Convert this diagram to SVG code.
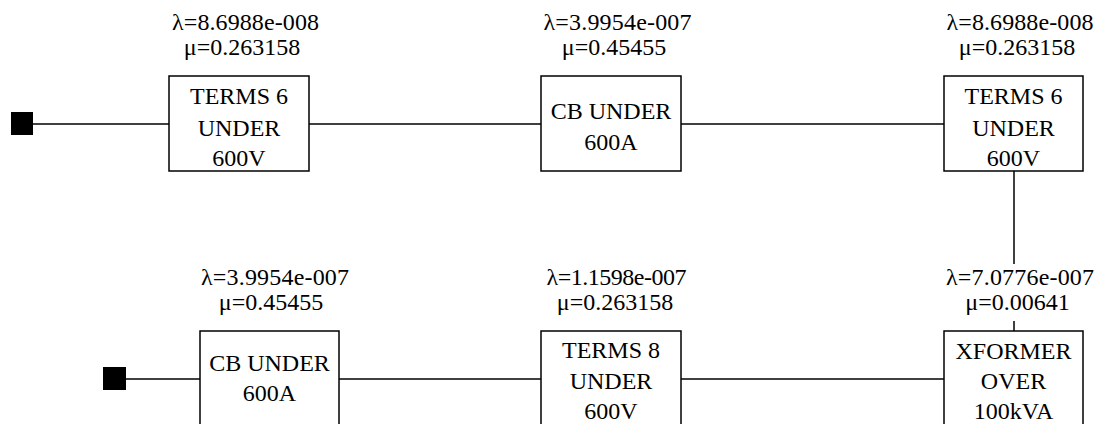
<svg xmlns="http://www.w3.org/2000/svg" width="1099" height="424" viewBox="0 0 1099 424">
<style>
text{font-family:'Liberation Serif','Times New Roman',Times,serif;font-size:24px;fill:#000;text-anchor:middle}
.box{fill:#fff;stroke:#000;stroke-width:1.5}
.wire{stroke:#000;stroke-width:1.5;fill:none}
.term{fill:#000}
</style>
<rect width="1099" height="424" fill="#fff"/>
<g id="connectors">
<line class="wire" x1="33" y1="124" x2="169" y2="124"/>
<line class="wire" x1="309" y1="124" x2="541" y2="124"/>
<line class="wire" x1="681" y1="124" x2="944" y2="124"/>
<line class="wire" x1="1014" y1="171" x2="1014" y2="264"/>
<line class="wire" x1="1014" y1="321" x2="1014" y2="331"/>
<line class="wire" x1="126" y1="379" x2="200" y2="379"/>
<line class="wire" x1="339" y1="379" x2="541" y2="379"/>
<line class="wire" x1="681" y1="379" x2="944" y2="379"/>
</g>
<g id="source1"><rect class="term" x="11" y="112" width="22" height="23"/></g>
<g id="source2"><rect class="term" x="103" y="367" width="23" height="23"/></g>
<g id="n1">
<text x="245.5" y="30" textLength="147" lengthAdjust="spacing">λ=8.6988e-008</text>
<text x="242" y="55">μ=0.263158</text>
<rect class="box" x="169" y="76" width="140" height="95"/>
<text x="239" y="104">TERMS 6</text>
<text x="239" y="136">UNDER</text>
<text x="239" y="166">600V</text>
</g>
<g id="n2">
<text x="617.5" y="30" textLength="148" lengthAdjust="spacing">λ=3.9954e-007</text>
<text x="614" y="55">μ=0.45455</text>
<rect class="box" x="541" y="76" width="140" height="95"/>
<text x="611" y="119">CB UNDER</text>
<text x="611" y="150">600A</text>
</g>
<g id="n3">
<text x="1020" y="30" textLength="147" lengthAdjust="spacing">λ=8.6988e-008</text>
<text x="1017" y="55">μ=0.263158</text>
<rect class="box" x="944" y="76" width="139" height="95"/>
<text x="1013.5" y="104">TERMS 6</text>
<text x="1013.5" y="136">UNDER</text>
<text x="1013.5" y="166">600V</text>
</g>
<g id="n4">
<text x="275" y="285" textLength="148" lengthAdjust="spacing">λ=3.9954e-007</text>
<text x="271" y="310">μ=0.45455</text>
<rect class="box" x="200" y="331" width="139" height="100"/>
<text x="269.5" y="371">CB UNDER</text>
<text x="269.5" y="401">600A</text>
</g>
<g id="n5">
<text x="616.5" y="285" textLength="140" lengthAdjust="spacing">λ=1.1598e-007</text>
<text x="615" y="310">μ=0.263158</text>
<rect class="box" x="541" y="331" width="140" height="100"/>
<text x="611" y="358">TERMS 8</text>
<text x="611" y="389">UNDER</text>
<text x="611" y="419">600V</text>
</g>
<g id="n6">
<text x="1020" y="285" textLength="148" lengthAdjust="spacing">λ=7.0776e-007</text>
<text x="1017.5" y="310">μ=0.00641</text>
<rect class="box" x="944" y="331" width="139" height="100"/>
<text x="1013.5" y="359">XFORMER</text>
<text x="1013.5" y="389">OVER</text>
<text x="1013.5" y="419">100kVA</text>
</g>
</svg>
